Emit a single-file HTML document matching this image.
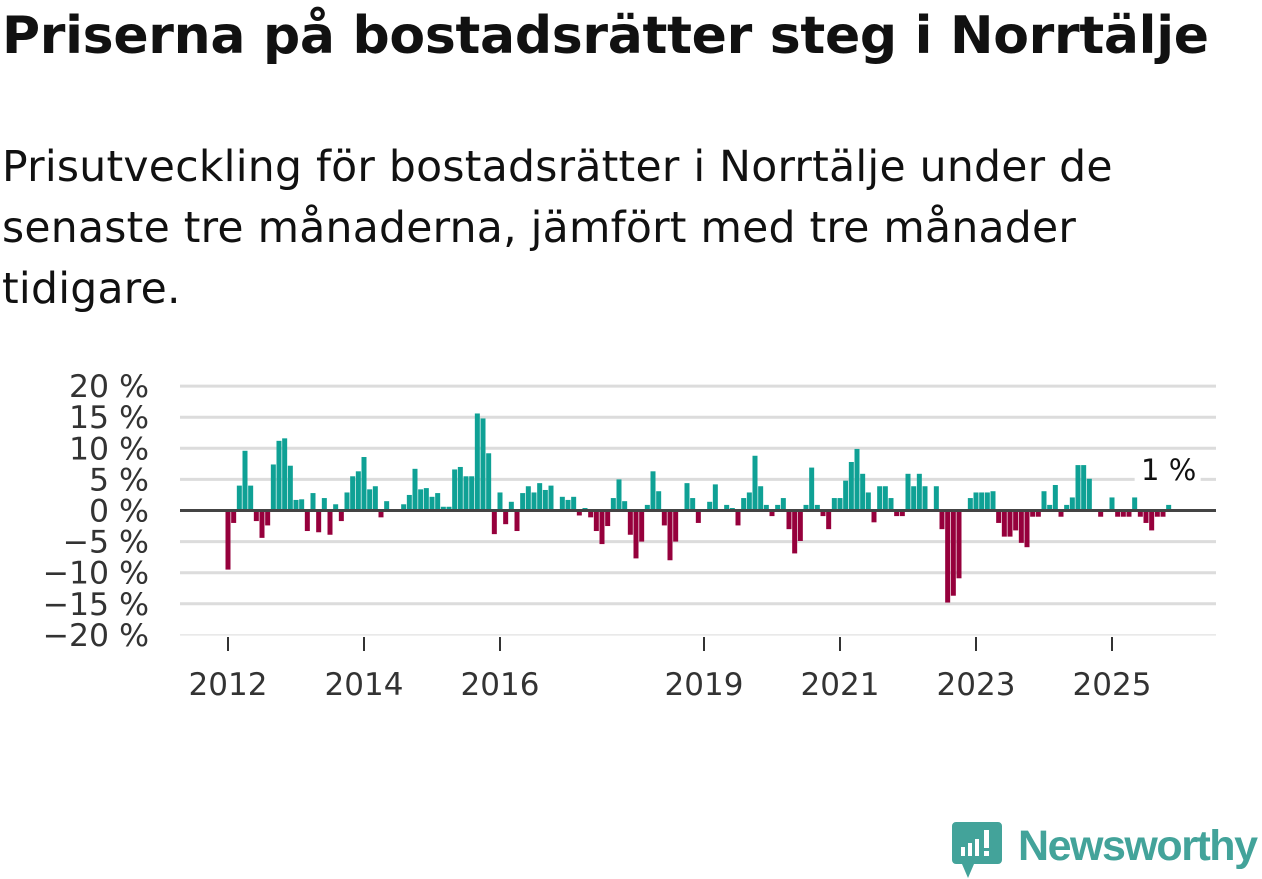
<!DOCTYPE html>
<html><head><meta charset="utf-8">
<style>
body{margin:0;width:1262px;height:879px;background:#fff;overflow:hidden;font-family:"Liberation Sans","DejaVu Sans",sans-serif;}
#title{position:absolute;left:2px;top:6px;font-size:52px;font-weight:bold;color:#111;letter-spacing:-0.3px;white-space:nowrap;font-family:"DejaVu Sans","Liberation Sans",sans-serif;}
#sub{position:absolute;left:2px;top:137px;font-size:42.5px;line-height:61px;color:#111;width:1250px;white-space:nowrap;font-family:"DejaVu Sans","Liberation Sans",sans-serif;letter-spacing:0.25px;}
svg{position:absolute;left:0;top:0;}
</style></head><body>
<div id="title">Priserna på bostadsrätter steg i Norrtälje</div>
<div id="sub">Prisutveckling för bostadsrätter i Norrtälje under de<br>senaste tre månaderna, jämfört med tre månader<br>tidigare.</div>
<svg id="chart" width="1262" height="879"></svg>
<script>
const values=[-9.5,-2,4,9.6,4,-1.7,-4.4,-2.4,7.4,11.2,11.6,7.2,1.7,1.8,-3.3,2.8,-3.5,2,-3.9,1,-1.7,2.9,5.5,6.3,8.6,3.4,3.9,-1.1,1.5,0,0,1,2.5,6.7,3.4,3.6,2.2,2.8,0.6,0.6,6.6,7,5.5,5.5,15.6,14.8,9.2,-3.8,2.9,-2.2,1.4,-3.3,2.8,3.9,2.9,4.4,3.3,4,0,2.2,1.7,2.2,-0.8,0.4,-1.1,-3.3,-5.4,-2.5,2,5,1.5,-3.9,-7.7,-5,0.9,6.3,3.1,-2.4,-8,-5,0,4.4,2,-2,0,1.4,4.2,0,0.9,0.4,-2.4,2,2.9,8.8,3.9,0.9,-0.9,0.9,2,-3,-6.9,-4.9,0.9,6.9,0.9,-0.9,-3,2,2,4.8,7.8,9.9,5.9,2.9,-1.9,3.9,3.9,2,-0.9,-0.9,5.9,3.9,5.9,3.9,0,3.9,-3,-14.8,-13.7,-10.9,0,2,2.9,2.9,2.9,3.1,-2,-4.2,-4.2,-3.2,-5.2,-5.9,-1,-1,3.1,0.9,4.1,-1,0.9,2.1,7.3,7.3,5.1,0,-1,0,2.1,-1,-1,-1,2.1,-1,-2,-3.2,-1,-1,0.9];
const startYear=2012, startMonth=0;
const yTicks=[20,15,10,5,0,-5,-10,-15,-20];
const yTickLabels=["20 %","15 %","10 %","5 %","0 %","−5 %","−10 %","−15 %","−20 %"];
const xTickYears=[2012,2014,2016,2019,2021,2023,2025];
const lastLabel="1 %";

const NS="http://www.w3.org/2000/svg";
const svg=document.getElementById('chart');
const x0=228, pxMonth=68/12, yZero=510.5, pxPct=6.22;
const xs=i=>x0+i*pxMonth;
const ys=v=>yZero-v*pxPct;
function mk(t,a){const e=document.createElementNS(NS,t);for(const k in a)e.setAttribute(k,a[k]);svg.appendChild(e);return e;}
yTicks.forEach((t,i)=>{
  if(t!==0){const l=mk('line',{x1:180,x2:1216,y1:ys(t),y2:ys(t),stroke:t===-20?'#e6e6e6':'#dcdcdc','stroke-width':t===-20?1.5:3});
  
  }
  const tx=mk('text',{x:149,y:ys(t)+11,'text-anchor':'end','font-size':31.5,fill:'#333','font-family':'DejaVu Sans, Liberation Sans, sans-serif'});
  tx.textContent=yTickLabels[i];
  
  
});
xTickYears.forEach(y=>{
  const x=xs((y-startYear)*12-startMonth);
  const tk=mk('line',{x1:x,x2:x,y1:637,y2:651,stroke:'#333','stroke-width':2});
  
  
  const tx=mk('text',{x:x,y:695,'text-anchor':'middle','font-size':31,fill:'#333','font-family':'DejaVu Sans, Liberation Sans, sans-serif'});
  tx.textContent=y;
  
  
});
values.forEach((v,i)=>{
  if(v===0)return;
  const x=xs(i);
  const r=mk('rect',{x:x-2.5,width:5,y:v>0?ys(v):yZero,height:Math.abs(v)*pxPct,fill:v>0?'#0fa195':'#96003c'});
  
  
});
const zl=mk('line',{x1:180,x2:1216,y1:yZero,y2:yZero,stroke:'#444','stroke-width':3});


const li=values.length-1;
const bg=mk('rect',{x:xs(li)-34,y:ys(values[li])-52,width:66,height:34,fill:'#fff'});


const lab=mk('text',{x:xs(li),y:ys(values[li])-25,'text-anchor':'middle','font-size':29,fill:'#111','font-family':'DejaVu Sans, Liberation Sans, sans-serif'});
lab.textContent=lastLabel;


</script>
<svg width="1262" height="879" style="position:absolute;left:0;top:0">
  <path d="M956 822 h42 a4 4 0 0 1 4 4 v34 a4 4 0 0 1 -4 4 h-24 l-6 14 l-6 -14 h-6 a4 4 0 0 1 -4 -4 v-34 a4 4 0 0 1 4 -4z" fill="#43a39a"/>
  <rect x="961" y="847" width="4" height="9" fill="#fff"/>
  <rect x="968" y="843" width="4" height="13" fill="#fff"/>
  <rect x="975" y="839" width="4" height="17" fill="#fff"/>
  <rect x="984" y="830" width="5" height="18" fill="#fff"/>
  <rect x="984" y="851" width="5" height="5" fill="#fff"/>
  <text x="1018" y="860" font-size="43" font-weight="bold" fill="#43a39a" font-family="Liberation Sans, sans-serif" textLength="240">Newsworthy</text>
</svg>
</body></html>
